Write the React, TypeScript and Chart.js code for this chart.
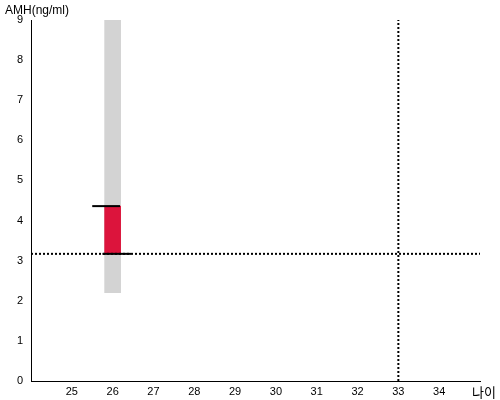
import React, { useEffect, useRef } from "react";
import { Chart, registerables } from "chart.js";

Chart.register(...registerables);

const xTickValues = [25, 26, 27, 28, 29, 30, 31, 32, 33, 34];
const yTickValues = [0, 1, 2, 3, 4, 5, 6, 7, 8, 9];
const xRange = [24, 35];
const yRange = [0, 9];

const age = 26;
const normalRange = [2.2, 9];
const amhRange = [3.17, 4.36];
const topMarkerX = [25.5, 26.18];
const topMarkerY = 4.36;
const bottomMarkerX = [25.75, 26.45];
const bottomMarkerY = 3.17;
const refAmh = 3.17;
const refAge = 33;

const yTitle = "AMH(ng/ml)";
const xTitle = "나이";

const textPlugin = {
  id: "texts",
  afterDraw(chart: any) {
    const ctx = chart.ctx;
    ctx.save();
    ctx.fillStyle = "#000";
    ctx.font = "12px 'Liberation Sans', Arial, sans-serif";
    ctx.textAlign = "left";
    ctx.textBaseline = "alphabetic";
    ctx.fillText(yTitle, 5, 14);
    ctx.font = "13px 'Noto Sans CJK KR', sans-serif";
    ctx.textAlign = "center";
    ctx.fillText(xTitle, 484, 397);
    ctx.restore();
  },
};

export default function App() {
  const ref = useRef<HTMLCanvasElement | null>(null);
  useEffect(() => {
    if (!ref.current) return;
    const dotted = {
      type: "line",
      borderColor: "#000",
      borderWidth: 2,
      borderDash: [2, 2],
      pointRadius: 0,
      fill: false,
      order: 0,
    };
    const chart = new Chart(ref.current, {
      type: "bar",
      data: {
        datasets: [
          {
            ...dotted,
            data: [
              { x: xRange[0], y: refAmh },
              { x: xRange[1], y: refAmh },
            ],
          } as any,
          {
            ...dotted,
            data: [
              { x: refAge, y: yRange[0] },
              { x: refAge, y: yRange[1] },
            ],
          } as any,
          {
            type: "line",
            borderColor: "#000",
            borderWidth: 2,
            pointRadius: 0,
            data: [
              { x: topMarkerX[0], y: topMarkerY },
              { x: topMarkerX[1], y: topMarkerY },
            ],
            order: 1,
          } as any,
          {
            type: "line",
            borderColor: "#000",
            borderWidth: 2,
            pointRadius: 0,
            data: [
              { x: bottomMarkerX[0], y: bottomMarkerY },
              { x: bottomMarkerX[1], y: bottomMarkerY },
            ],
            order: 1,
          } as any,
          {
            type: "bar",
            backgroundColor: "#dc143c",
            borderWidth: 0,
            barThickness: 16,
            grouped: false,
            data: [{ x: age, y: amhRange }],
            order: 2,
          } as any,
          {
            type: "bar",
            backgroundColor: "#d3d3d3",
            borderWidth: 0,
            barThickness: 16,
            grouped: false,
            data: [{ x: age, y: normalRange }],
            order: 3,
          } as any,
        ],
      },
      options: {
        animation: false,
        responsive: false,
        layout: { padding: { top: 20, right: 20, left: 0, bottom: 0 } },
        plugins: { legend: { display: false }, tooltip: { enabled: false } },
        scales: {
          x: {
            type: "linear",
            offset: false,
            min: xRange[0],
            max: xRange[1],
            grid: { display: false, drawTicks: true, tickLength: 4, offset: false },
            border: { display: true, color: "#000", width: 1 },
            afterBuildTicks: (scale: any) => {
              scale.ticks = xTickValues.map((v) => ({ value: v }));
            },
            afterFit: (scale: any) => {
              scale.height = 19;
            },
            ticks: {
              color: "#000",
              font: { family: "'Liberation Sans', Arial, sans-serif", size: 11 },
              maxRotation: 0,
              autoSkip: false,
              padding: 0,
            },
          },
          y: {
            type: "linear",
            min: yRange[0],
            max: yRange[1],
            grid: { display: false, drawTicks: true, tickLength: 4 },
            border: { display: true, color: "#000", width: 1 },
            afterBuildTicks: (scale: any) => {
              scale.ticks = yTickValues.map((v) => ({ value: v }));
            },
            afterFit: (scale: any) => {
              scale.width = 31;
            },
            ticks: {
              color: "#000",
              font: { family: "'Liberation Sans', Arial, sans-serif", size: 11 },
              padding: 4,
            },
          },
        },
      } as any,
      plugins: [textPlugin],
    });
    return () => chart.destroy();
  }, []);
  return (
    <div style={{ position: "fixed", left: 0, top: 0, width: 500, height: 400 }}>
      <canvas ref={ref} width={500} height={400} style={{ width: 500, height: 400 }} />
    </div>
  );
}
